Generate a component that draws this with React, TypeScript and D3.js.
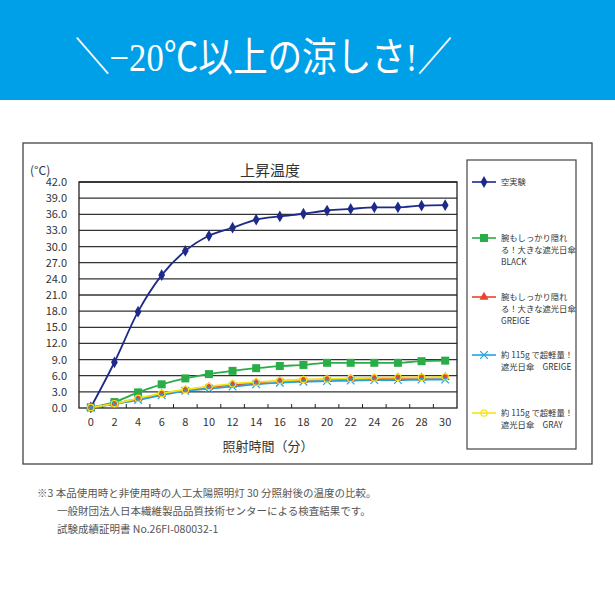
import React, { useEffect, useRef } from 'react';
import * as d3 from 'd3';

const minutes = ['0', '2', '4', '6', '8', '10', '12', '14', '16', '18', '20', '22', '24', '26', '28', '30'];
const yTicks = [0, 3, 6, 9, 12, 15, 18, 21, 24, 27, 30, 33, 36, 39, 42];

const blank = [0.1, 8.5, 17.9, 24.7, 29.2, 32.0, 33.5, 35.0, 35.6, 36.1, 36.7, 37.0, 37.3, 37.3, 37.6, 37.7];
const black = [0.1, 1.1, 2.9, 4.4, 5.5, 6.3, 6.9, 7.4, 7.8, 8.0, 8.4, 8.4, 8.4, 8.4, 8.7, 8.8];
const greige = [0.1, 0.8, 1.7, 2.6, 3.3, 3.9, 4.3, 4.7, 5.0, 5.2, 5.3, 5.4, 5.5, 5.6, 5.6, 5.7];
const lightGreige = [0.1, 0.7, 1.5, 2.4, 3.2, 3.6, 4.0, 4.4, 4.7, 4.9, 5.0, 5.1, 5.2, 5.2, 5.3, 5.3];
const lightGray = [0.1, 0.8, 1.8, 2.7, 3.4, 4.0, 4.5, 4.8, 5.1, 5.3, 5.4, 5.5, 5.6, 5.7, 5.7, 5.8];

const series = [
  { name: ['空実験'], values: blank, color: '#1e2a8a', marker: 'diamond' },
  { name: ['腕もしっかり隠れ', 'る！大きな遮光日傘', 'BLACK'], values: black, color: '#2aad48', marker: 'square' },
  { name: ['腕もしっかり隠れ', 'る！大きな遮光日傘', 'GREIGE'], values: greige, color: '#e8442e', marker: 'triangle' },
  { name: ['約 115g で超軽量！', '遮光日傘　GREIGE'], values: lightGreige, color: '#22a3dd', marker: 'cross' },
  { name: ['約 115g で超軽量！', '遮光日傘　GRAY'], values: lightGray, color: '#f5e414', marker: 'circle' },
];

const notes = [
  '※3 本品使用時と非使用時の人工太陽照明灯 30 分照射後の温度の比較。',
  '一般財団法人日本繊維製品品質技術センターによる検査結果です。',
  '試験成績証明書 No.26FI-080032-1',
];

const legendY = [182, 238, 297, 355, 413];
const FONT = "'Noto Sans CJK JP', 'Noto Sans', sans-serif";

function drawMarker(g: d3.Selection<SVGGElement, unknown, null, undefined>, kind: string, cx: number, cy: number, color: string) {
  if (kind === 'diamond') {
    g.append('path').attr('d', d3.symbol(d3.symbolDiamond, 40)()!).attr('transform', `translate(${cx},${cy})`).attr('fill', color);
  } else if (kind === 'square') {
    g.append('rect').attr('x', cx - 4).attr('y', cy - 4).attr('width', 8).attr('height', 8).attr('fill', color);
  } else if (kind === 'triangle') {
    g.append('path').attr('d', d3.symbol(d3.symbolTriangle, 36)()!).attr('transform', `translate(${cx},${cy})`).attr('fill', color);
  } else if (kind === 'cross') {
    g.append('path').attr('d', d3.symbol(d3.symbolX, 40)()!).attr('transform', `translate(${cx},${cy})`)
      .attr('fill', 'none').attr('stroke', color).attr('stroke-width', 1.2);
  } else {
    g.append('circle').attr('cx', cx).attr('cy', cy).attr('r', 3.2)
      .attr('fill', 'none').attr('stroke', color).attr('stroke-width', 1.2);
  }
}

export default function App() {
  const svgRef = useRef<SVGSVGElement>(null);

  useEffect(() => {
    if (!svgRef.current) return;
    const svg = d3.select(svgRef.current);
    svg.selectAll('*').remove();

    // header band
    svg.append('rect').attr('x', 0).attr('y', 0).attr('width', 615).attr('height', 100).attr('fill', '#00a0e9');
    svg.append('text').attr('x', 75).attr('y', 71)
      .attr('textLength', 377).attr('lengthAdjust', 'spacingAndGlyphs')
      .attr('fill', '#fff').style('font-family', "'Liberation Serif', 'Noto Sans CJK JP', serif")
      .style('font-size', '40px')
      .text('＼−20℃以上の涼しさ!／');

    // chart frame
    svg.append('rect').attr('x', 23).attr('y', 143).attr('width', 569).attr('height', 321)
      .attr('fill', '#fff').attr('stroke', '#444').attr('stroke-width', 1.3);

    const plot = { left: 79, right: 457, top: 182, bottom: 408 };
    const x = d3.scaleBand().domain(minutes).range([plot.left, plot.right]);
    const y = d3.scaleLinear().domain([0, 42]).range([plot.bottom, plot.top]);

    const g = svg.append('g');

    // grid
    g.selectAll('line.grid').data(yTicks.slice(1)).enter().append('line')
      .attr('x1', plot.left).attr('x2', plot.right)
      .attr('y1', (d) => y(d)).attr('y2', (d) => y(d))
      .attr('stroke', '#333').attr('stroke-width', 1.3);

    g.append('rect').attr('x', plot.left).attr('y', plot.top)
      .attr('width', plot.right - plot.left).attr('height', plot.bottom - plot.top)
      .attr('fill', 'none').attr('stroke', '#222').attr('stroke-width', 1.3);

    // y labels
    g.selectAll('text.ytick').data(yTicks).enter().append('text')
      .attr('x', 67).attr('y', (d) => y(d) + 4).attr('text-anchor', 'end')
      .style('font-family', FONT).style('font-size', '11px').attr('fill', '#333')
      .text((d) => d.toFixed(1));

    // x ticks between categories, inside plot
    minutes.slice(1).forEach((m) => {
      const tx = x(m)!;
      g.append('line').attr('x1', tx).attr('x2', tx).attr('y1', plot.bottom).attr('y2', plot.bottom - 4)
        .attr('stroke', '#222').attr('stroke-width', 1);
    });
    g.selectAll('text.xtick').data(minutes).enter().append('text')
      .attr('x', (d) => x(d)! + x.bandwidth() / 2).attr('y', 426).attr('text-anchor', 'middle')
      .style('font-family', FONT).style('font-size', '11px').attr('fill', '#333')
      .text((d) => d);

    g.append('text').attr('x', 268).attr('y', 451).attr('text-anchor', 'middle')
      .style('font-family', FONT).style('font-size', '13px').attr('fill', '#333').text('照射時間（分）');
    g.append('text').attr('x', 270).attr('y', 176).attr('text-anchor', 'middle')
      .style('font-family', FONT).style('font-size', '15px').attr('fill', '#333').text('上昇温度');
    g.append('text').attr('x', 30).attr('y', 175)
      .style('font-family', FONT).style('font-size', '12px').attr('fill', '#333').text('(°C)');

    // series
    const cx = (i: number) => x(minutes[i])! + x.bandwidth() / 2;
    const line = d3.line<number>().x((_, i) => cx(i)).y((d) => y(d)).curve(d3.curveMonotoneX);
    series.forEach((s) => {
      g.append('path').attr('d', line(s.values)!).attr('fill', 'none')
        .attr('stroke', s.color).attr('stroke-width', 1.8);
    });
    series.forEach((s) => {
      s.values.forEach((v, i) => drawMarker(g, s.marker, cx(i), y(v), s.color));
    });

    // legend
    svg.append('rect').attr('x', 467).attr('y', 160).attr('width', 109).attr('height', 289)
      .attr('fill', '#fff').attr('stroke', '#444').attr('stroke-width', 1.2);
    series.forEach((s, k) => {
      const ly = legendY[k];
      const lg = svg.append('g');
      lg.append('line').attr('x1', 472).attr('x2', 496).attr('y1', ly).attr('y2', ly)
        .attr('stroke', s.color).attr('stroke-width', 1.6);
      drawMarker(lg, s.marker, 484, ly, s.color);
      s.name.forEach((t, j) => {
        lg.append('text').attr('x', 501).attr('y', ly + 3 + j * 12)
          .style('font-family', FONT).style('font-size', '8.3px').attr('fill', '#333')
          .text(t);
      });
    });

    // footnotes
    notes.forEach((t, i) => {
      svg.append('text').attr('x', i === 0 ? 37 : 57).attr('y', 497 + i * 18)
        .style('font-family', FONT).style('font-size', '10.5px').attr('fill', '#555').text(t);
    });
  }, []);

  return (
    <svg ref={svgRef} width={615} height={615}
      style={{ position: 'absolute', left: 0, top: 0, background: '#fff' }} />
  );
}
